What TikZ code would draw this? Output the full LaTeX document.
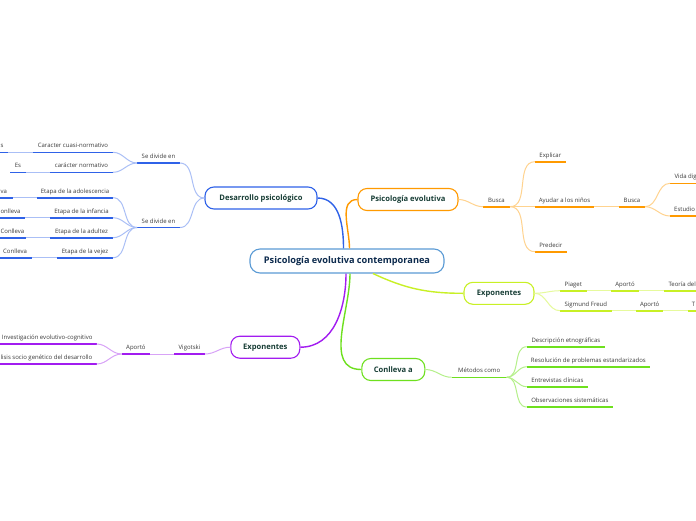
\documentclass[tikz,border=0pt]{standalone}
\usepackage{fontspec}
\setmainfont{Open Sans}
\usetikzlibrary{calc}
\definecolor{blueD}{HTML}{2F62E8}
\definecolor{blueL}{HTML}{AABFF6}
\definecolor{orangeD}{HTML}{FF9A00}
\definecolor{orangeL}{HTML}{FFD38F}
\definecolor{ygD}{HTML}{C8F025}
\definecolor{ygL}{HTML}{E6FA9C}
\definecolor{greenD}{HTML}{6EE01E}
\definecolor{greenL}{HTML}{B5F08A}
\definecolor{purD}{HTML}{A21CF0}
\definecolor{purL}{HTML}{D8A3F7}
\definecolor{centB}{HTML}{5B9BD5}
\definecolor{centT}{HTML}{0C2A4D}
\definecolor{lvlT}{HTML}{173D35}
\definecolor{smallT}{HTML}{3A3A3A}
\tikzset{
  ul/.style={line width=1.6pt},
  conn/.style={line width=1pt},
  mainconn/.style={line width=1.4pt},
  lbl/.style={anchor=base, inner sep=0pt, text=smallT, font=\fontsize{6}{7}\selectfont},
  lvlbox/.style={draw, rounded corners=9pt, line width=1.1pt, fill=white, inner sep=0pt,
     minimum height=22pt, text=lvlT, font=\bfseries\fontsize{7.6}{9}\selectfont},
  centbox/.style={draw=centB, rounded corners=10pt, line width=1.1pt, fill=white, inner sep=0pt,
     minimum height=24pt, minimum width=194pt, text=centT, font=\bfseries\fontsize{9.2}{11}\selectfont}
}
\newcommand\mmul[5]{%
  \coordinate (#1l) at (#3,#5);
  \coordinate (#1r) at (#4,#5);
  \draw[ul,#2] (#1l) -- (#1r);}
\newcommand\mmitem[6]{%
  \mmul{#1}{#2}{#3}{#4}{#5}%
  \node[lbl] (#1) at ($(#1l)!0.5!(#1r)+(0,-4.5)$) {#6};}
\begin{document}
\begin{tikzpicture}[x=1pt,y=-1pt]
\useasboundingbox (0,0) rectangle (696,520);
\fill[white] (0,0) rectangle (696,520);
\clip (0,0) rectangle (696,520);

% ---- level 0 and 1 boxes
\node[centbox] (cent) at (347,261) {Psicología evolutiva contemporanea};
\node[lvlbox, draw=blueD, minimum width=112pt] (desa) at (261,198) {Desarrollo psicológico};
\node[lvlbox, draw=orangeD, minimum width=100pt] (psi) at (408,199.5) {Psicología evolutiva};
\node[lvlbox, draw=ygD, minimum width=70pt] (expR) at (499,293.3) {Exponentes};
\node[lvlbox, draw=greenD, minimum width=63pt] (conl) at (393.3,369.5) {Conlleva a};
\node[lvlbox, draw=purD, minimum width=69pt] (expL) at (265.3,347.2) {Exponentes};

% ---- main connectors
\draw[mainconn, blueD] (desa.east) to[out=0,in=90] ([xshift=-3.5pt]cent.north);
\draw[mainconn, orangeD] ([xshift=2.5pt]cent.north) to[out=90,in=180] (psi.west);
\draw[mainconn, ygD] ([xshift=26pt]cent.south) to[out=-25,in=180] (expR.west);
\draw[mainconn, greenD] ([xshift=3pt]cent.south) to[out=-90,in=180] (conl.west);
\draw[mainconn, purD] ([xshift=-1pt]cent.south) to[out=-90,in=0] (expL.east);

% ---- blue branch
\mmitem{sda}{blueD}{137}{180}{163}{Se divide en}
\mmitem{sdb}{blueD}{137}{180}{227.5}{Se divide en}
\mmitem{cc}{blueD}{33}{113}{152.3}{Caracter cuasi-normativo}
\mmitem{cn}{blueD}{50}{113}{172.3}{carácter normativo}
\mmul{s}{blueD}{-2}{8}{152.3}
\node[lbl,anchor=base west] (stx) at (0.4,147.8) {s};
\mmitem{es}{blueD}{10}{26}{172.3}{Es}
\mmitem{ead}{blueD}{37}{113}{197.7}{Etapa de la adolescencia}
\mmitem{ein}{blueD}{50}{113}{217.7}{Etapa de la infancia}
\mmitem{eau}{blueD}{50}{113}{237.7}{Etapa de la adultez}
\mmitem{eve}{blueD}{57}{113}{257.7}{Etapa de la vejez}
\mmul{va}{blueD}{-2}{13}{197.7}
\node[lbl,anchor=base west] (vatx) at (0.4,193.2) {va};
\mmul{onl}{blueD}{-2}{25}{217.7}
\node[lbl,anchor=base west] (onltx) at (0.4,213.2) {onlleva};
\mmul{cog}{blueD}{-2}{26}{237.7}
\node[lbl,anchor=base west] (cogtx) at (0.4,233.2) {Conlleva};
\mmul{coh}{blueD}{-2}{32}{257.7}
\node[lbl,anchor=base west] (cohtx) at (3,253.2) {Conlleva};

\draw[conn, blueL] (desa.west) to[out=180,in=0] (sdar);
\draw[conn, blueL] (desa.west) to[out=180,in=0] (sdbr);
\draw[conn, blueL] (sdal) to[out=180,in=0] (ccr);
\draw[conn, blueL] (sdal) to[out=180,in=0] (cnr);
\draw[conn, blueL] (sdbl) to[out=180,in=0] (eadr);
\draw[conn, blueL] (sdbl) to[out=180,in=0] (einr);
\draw[conn, blueL] (sdbl) to[out=180,in=0] (eaur);
\draw[conn, blueL] (sdbl) to[out=180,in=0] (ever);
\draw[conn, blueL] (sr) -- (ccl);
\draw[conn, blueL] (esr) -- (cnl);
\draw[conn, blueL] (var) -- (eadl);
\draw[conn, blueL] (onlr) -- (einl);
\draw[conn, blueL] (cogr) -- (eaul);
\draw[conn, blueL] (cohr) -- (evel);

% ---- orange branch
\mmitem{bua}{orangeD}{483}{510}{206.7}{Busca}
\mmitem{expl}{orangeD}{535}{565.7}{161.7}{Explicar}
\mmitem{ayu}{orangeD}{535}{594}{206.7}{Ayudar a los niños}
\mmitem{pre}{orangeD}{535}{566.7}{251.7}{Predecir}
\mmitem{bub}{orangeD}{619}{645}{206.7}{Busca}
\mmul{vid}{orangeD}{670}{700}{183.3}
\node[lbl,anchor=base west] (vidtx) at (674.3,178.8) {Vida dig};
\mmul{est}{orangeD}{670}{700}{216}
\node[lbl,anchor=base west] (esttx) at (674,211.5) {Estudio};
\draw[conn, orangeL] (psi.east) to[out=0,in=180] (bual);
\draw[conn, orangeL] (buar) to[out=0,in=180] (expll);
\draw[conn, orangeL] (buar) to[out=0,in=180] (ayul);
\draw[conn, orangeL] (buar) to[out=0,in=180] (prel);
\draw[conn, orangeL] (ayur) -- (bubl);
\draw[conn, orangeL] (bubr) to[out=0,in=180] (vidl);
\draw[conn, orangeL] (bubr) to[out=0,in=180] (estl);

% ---- yellow-green branch
\mmitem{pia}{ygD}{560}{586.7}{290.7}{Piaget}
\mmitem{apa}{ygD}{610.7}{639.3}{290.7}{Aportó}
\mmul{teo}{ygD}{664}{700}{290.7}
\node[lbl,anchor=base west] (teotx) at (668.3,286.2) {Teoría del};
\mmitem{fre}{ygD}{560}{611.7}{310.7}{Sigmund Freud}
\mmitem{apb}{ygD}{636}{663.3}{310.7}{Aportó}
\mmul{tt}{ygD}{688}{700}{310.7}
\node[lbl,anchor=base west] (tttx) at (691.7,306.2) {T};
\draw[conn, ygL] (expR.east) to[out=0,in=180] (pial);
\draw[conn, ygL] (expR.east) to[out=0,in=180] (frel);
\draw[conn, ygL] (piar) -- (apal);
\draw[conn, ygL] (apar) -- (teol);
\draw[conn, ygL] (frer) -- (apbl);
\draw[conn, ygL] (apbr) -- (ttl);

% ---- green branch
\mmitem{met}{greenD}{451.7}{506.7}{377.3}{Métodos como}
\mmitem{des}{greenD}{526.7}{605}{346.7}{Descripción etnográficas}
\mmitem{res}{greenD}{526.7}{650}{366.7}{Resolución de problemas estandarizados}
\mmitem{ent}{greenD}{526.7}{588}{386.7}{Entrevistas clínicas}
\mmitem{obs}{greenD}{526.7}{613}{407}{Observaciones sistemáticas}
\draw[conn, greenL] (conl.east) to[out=0,in=180] (metl);
\draw[conn, greenL] (metr) to[out=0,in=180] (desl);
\draw[conn, greenL] (metr) to[out=0,in=180] (resl);
\draw[conn, greenL] (metr) to[out=0,in=180] (entl);
\draw[conn, greenL] (metr) to[out=0,in=180] (obsl);

% ---- purple branch
\mmitem{vig}{purD}{174}{205}{354}{Vigotski}
\mmitem{apo}{purD}{121.7}{150}{354}{Aportó}
\mmul{inv}{purD}{-2}{96.7}{344}
\node[lbl,anchor=base east] (invtx) at (92.7,339.5) {Investigación evolutivo-cognitivo};
\mmul{ana}{purD}{-2}{96.7}{364}
\node[lbl,anchor=base west] (anatx) at (0.4,359.5) {lisis socio genético del desarrollo};
\draw[conn, purL] (expL.west) to[out=180,in=0] (vigr);
\draw[conn, purL] (vigl) -- (apor);
\draw[conn, purL] (apol) to[out=180,in=0] (invr);
\draw[conn, purL] (apol) to[out=180,in=0] (anar);
\end{tikzpicture}
\end{document}
